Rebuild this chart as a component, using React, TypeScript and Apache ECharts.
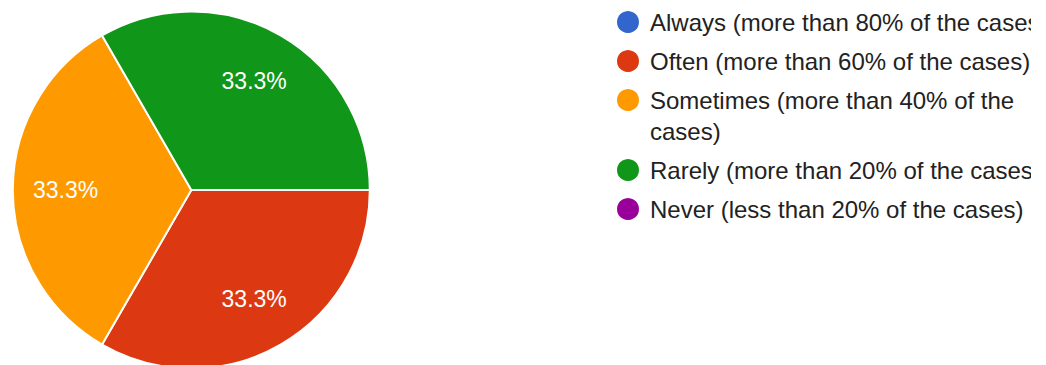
import React, { useEffect, useRef } from "react";
import * as echarts from "echarts";

const categories = [
  "Always (more than 80% of the cases)",
  "Often (more than 60% of the cases)",
  "Sometimes (more than 40% of the cases)",
  "Rarely (more than 20% of the cases)",
  "Never (less than 20% of the cases)",
];
const values = [0, 1, 1, 1, 0];
const colors = ["#3366cc", "#dc3912", "#ff9900", "#109618", "#990099"];
const sometimesLines = ["Sometimes (more than 40% of the", "cases)"];

const FONT = "'Liberation Sans', Arial, sans-serif";

export default function App() {
  const ref = useRef<HTMLDivElement>(null);
  useEffect(() => {
    if (!ref.current) return;
    const chart = echarts.init(ref.current, undefined, { renderer: "svg" });
    const total = values.reduce((a, b) => a + b, 0);
    const legendBase = {
      orient: "vertical" as const,
      left: 615,
      padding: 0,
      itemGap: 8,
      itemWidth: 24,
      itemHeight: 24,
      icon: "circle",
      selectedMode: false,
      textStyle: {
        fontFamily: FONT,
        fontSize: 24,
        color: "#222222",
        lineHeight: 31,
        padding: [0, 0, 0, 5],
      },
    };
    chart.setOption({
      animation: false,
      color: colors,
      legend: [
        { ...legendBase, top: 6.5, data: [categories[0], categories[1]] },
        {
          ...legendBase,
          top: 53.5,
          data: [categories[2]],
          formatter: () => "\n" + sometimesLines.join("\n"),
        },
        { ...legendBase, top: 154.5, data: [categories[3], categories[4]] },
      ],
      series: [
        {
          type: "pie",
          center: [191.3, 190],
          radius: [0, 178.5],
          startAngle: 0,
          clockwise: true,
          silent: true,
          itemStyle: { borderColor: "#ffffff", borderWidth: 2 },
          label: { show: false },
          labelLine: { show: false },
          emphasis: { disabled: true },
          data: categories.map((name, i) => ({
            name,
            value: values[i],
            itemStyle: { color: colors[i] },
          })),
        },
        {
          type: "pie",
          center: [191.3, 190],
          radius: [67, 178.5],
          startAngle: 0,
          clockwise: true,
          silent: true,
          itemStyle: { color: "rgba(0,0,0,0)", borderWidth: 0 },
          label: {
            show: true,
            position: "inside",
            formatter: (p: any) => ((p.value / total) * 100).toFixed(1) + "%",
            color: "#ffffff",
            fontFamily: FONT,
            fontSize: 23,
          },
          labelLine: { show: false },
          emphasis: { disabled: true },
          data: categories.map((name, i) => ({
            name,
            value: values[i],
            itemStyle: { color: "rgba(0,0,0,0)" },
            label: { show: values[i] > 0 },
          })),
        },
      ],
    });
    return () => chart.dispose();
  }, []);
  return (
    <div
      ref={ref}
      style={{ position: "fixed", left: 0, top: 0, width: 1031, height: 365, background: "#ffffff" }}
    />
  );
}
